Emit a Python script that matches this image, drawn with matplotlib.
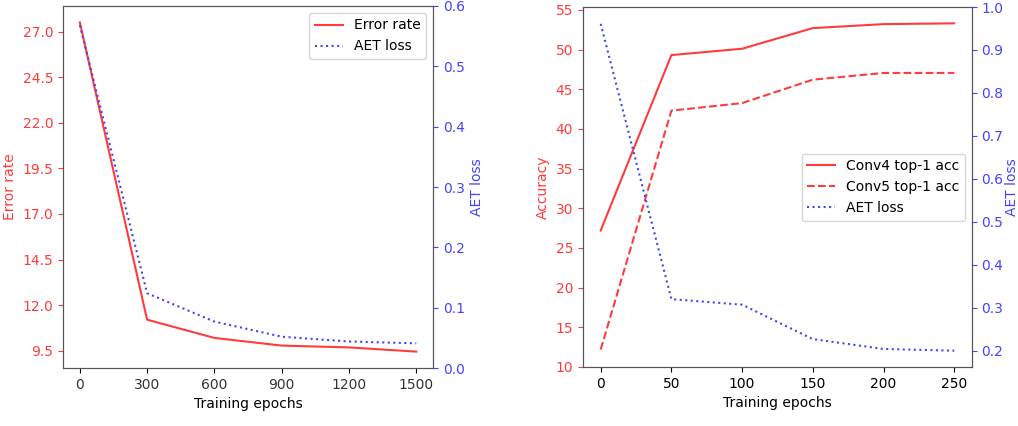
import numpy as np
import matplotlib
matplotlib.use('Agg')
import matplotlib.pyplot as plt

# Lewy wykres: error rate i AET loss
epochs_a = [0, 300, 600, 900, 1200, 1500]
error_rate = [27.5, 11.2, 10.2, 9.78, 9.68, 9.45]
aet_loss_a = [0.568, 0.124, 0.077, 0.052, 0.044, 0.041]
err_ticks = [9.5, 12.0, 14.5, 17.0, 19.5, 22.0, 24.5, 27.0]

# Prawy wykres: dokladnosc i AET loss
epochs_b = [0, 50, 100, 150, 200, 250]
conv4_acc = [27.2, 49.3, 50.1, 52.7, 53.2, 53.3]
conv5_acc = [12.2, 42.3, 43.25, 46.2, 47.05, 47.05]
aet_loss_b = [0.961, 0.32, 0.307, 0.227, 0.204, 0.2]

RED = '#ff3b3b'
BLUE = '#4444ff'

fig = plt.figure(figsize=(10.18, 4.26), dpi=100)

# --- lewy ---
ax1 = fig.add_axes([0.0619, 0.136, 0.3635, 0.85])
l1, = ax1.plot(epochs_a, error_rate, color=RED, label='Error rate')
ax1.set_xticks(epochs_a)
ax1.set_yticks(err_ticks)
ax1.set_xlabel('Training epochs')
ax1.set_ylabel('Error rate', color=RED)
ax1.tick_params(axis='y', colors=RED)
for lab in ax1.get_xticklabels():
    lab.set_color('#333333')

ax1b = ax1.twinx()
l2, = ax1b.plot(epochs_a, aet_loss_a, color=BLUE, linestyle=':', label='AET loss')
ax1b.set_ylim(0, 0.6)
ax1b.set_ylabel('AET loss', color=BLUE)
ax1b.tick_params(axis='y', colors=BLUE)
ax1b.legend([l1, l2], ['Error rate', 'AET loss'], loc='upper right')

# --- prawy ---
ax2 = fig.add_axes([0.5727, 0.1385, 0.382, 0.845])
l3, = ax2.plot(epochs_b, conv4_acc, color=RED, label='Conv4 top-1 acc')
l4, = ax2.plot(epochs_b, conv5_acc, color=RED, linestyle='--', label='Conv5 top-1 acc')
ax2.set_xticks(epochs_b)
ax2.set_yticks(np.arange(10, 56, 5))
ax2.set_xlabel('Training epochs')
ax2.set_ylabel('Accuracy', color=RED)
ax2.tick_params(axis='y', colors=RED)

ax2b = ax2.twinx()
l5, = ax2b.plot(epochs_b, aet_loss_b, color=BLUE, linestyle=':', label='AET loss')
ax2b.set_ylim(0.162, 1.0)
ax2b.set_yticks(np.arange(0.2, 1.01, 0.1))
ax2b.set_ylabel('AET loss', color=BLUE, labelpad=1)
ax2b.tick_params(axis='y', colors=BLUE)
ax2b.legend([l3, l4, l5], ['Conv4 top-1 acc', 'Conv5 top-1 acc', 'AET loss'],
            loc='center right')

for a in (ax1, ax1b, ax2, ax2b):
    for s in a.spines.values():
        s.set_color('#555555')

fig.savefig('out.png', dpi=100)
